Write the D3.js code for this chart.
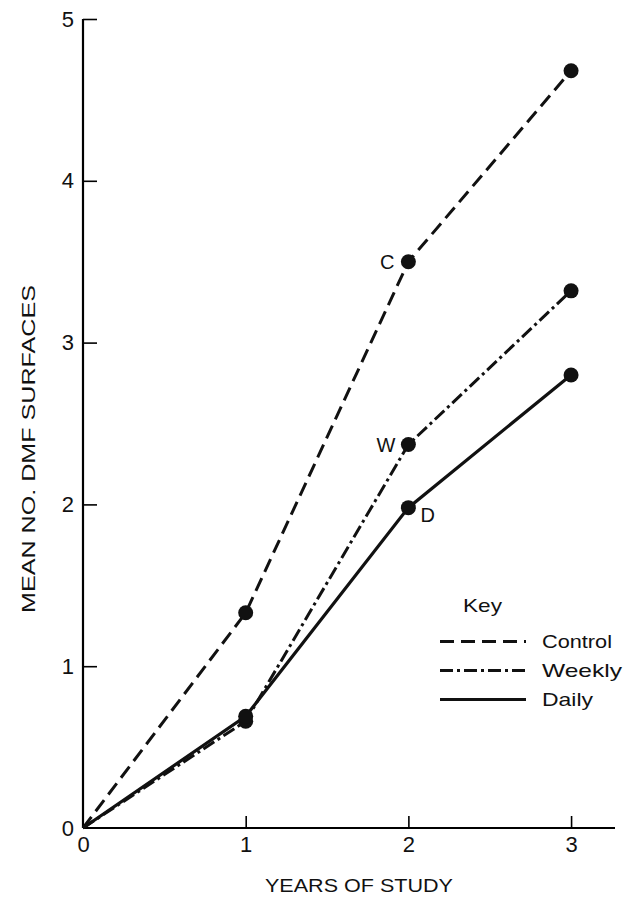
<!DOCTYPE html>
<html>
<head>
<meta charset="utf-8">
<script src="https://cdn.jsdelivr.net/npm/d3@7"></script>
<style>
  body { margin: 0; background: #fff; }
  text { font-family: "Liberation Sans", Arial, sans-serif; fill: #111; }
</style>
</head>
<body>
<svg id="chart"></svg>
<script>
// data
const years = [0, 1, 2, 3]
const control = [0, 1.33, 3.5, 4.68]
const weekly = [0, 0.66, 2.37, 3.32]
const daily = [0, 0.69, 1.98, 2.80]
const xTicks = [0, 1, 2, 3]
const yTicks = [0, 1, 2, 3, 4, 5]
const seriesNames = ["Control", "Weekly", "Daily"]
const pointLabels = ["C", "W", "D"]

const width = 628, height = 898
const margin = {top: 19, right: 13, bottom: 70, left: 83}

const svg = d3.select("#chart")
    .attr("width", width)
    .attr("height", height)

const x = d3.scaleLinear()
    .domain([0, 3.27])
    .range([margin.left, width - margin.right])

const y = d3.scaleLinear()
    .domain([0, 5])
    .range([height - margin.bottom, margin.top])

// styles per series
const styles = {
  Control: {dash: "14,7", width: 3},
  Weekly: {dash: "13,4,3,4", width: 3},
  Daily: {dash: null, width: 3.2}
}

const series = seriesNames.map((name, i) => ({
  name,
  label: pointLabels[i],
  values: years.map((yr, j) => ({x: yr, y: [control, weekly, daily][i][j]}))
}))

// the original type is wider than Liberation Sans, so stretch the titles a bit
const fitText = (sel, len) => sel.attr("textLength", len).attr("lengthAdjust", "spacingAndGlyphs")

// axes
const xAxis = g => g
    .attr("transform", `translate(0,${y(0)})`)
    .call(d3.axisBottom(x).tickValues(xTicks).tickSize(-12).tickPadding(8).tickFormat(d3.format("d")))
    .call(g => g.select(".domain").attr("d", `M${x.range()[0]},0H${x.range()[1]}`).attr("stroke-width", 2.2))
    .call(g => g.selectAll(".tick line").attr("stroke-width", 1.6))
    .call(g => g.selectAll(".tick").filter(d => d === 0).select("line").remove())
    .call(g => g.selectAll("text").attr("font-size", 22).attr("font-family", "Liberation Sans, Arial, sans-serif").attr("fill", "#111"))

const yAxis = g => g
    .attr("transform", `translate(${x(0)},0)`)
    .call(d3.axisLeft(y).tickValues(yTicks).tickSize(-14).tickPadding(9).tickFormat(d3.format("d")))
    .call(g => g.select(".domain").attr("d", `M0,${y(0)}V${y(5)}`).attr("stroke-width", 2.2))
    .call(g => g.selectAll(".tick line").attr("stroke-width", 1.6))
    .call(g => g.selectAll(".tick").filter(d => d === 0).select("line").remove())
    .call(g => g.selectAll("text").attr("font-size", 22).attr("font-family", "Liberation Sans, Arial, sans-serif").attr("fill", "#111"))

svg.append("g").call(xAxis)
svg.append("g").call(yAxis)

// lines
const line = d3.line()
    .x(d => x(d.x))
    .y(d => y(d.y))

svg.append("g")
  .selectAll("path")
  .data(series)
  .join("path")
    .attr("fill", "none")
    .attr("stroke", "#111")
    .attr("stroke-width", d => styles[d.name].width)
    .attr("stroke-dasharray", d => styles[d.name].dash)
    .attr("d", d => line(d.values))

// markers (not at origin)
svg.append("g")
  .selectAll("circle")
  .data(series.flatMap(s => s.values.filter(v => v.x > 0)))
  .join("circle")
    .attr("cx", d => x(d.x))
    .attr("cy", d => y(d.y))
    .attr("r", 7.5)
    .attr("fill", "#111")

// point letters at year 2
const labelOffset = {C: [-14, 0, "end"], W: [-13, 0, "end"], D: [12, 7, "start"]}
svg.append("g")
  .selectAll("text")
  .data(series)
  .join("text")
    .attr("x", d => x(2) + labelOffset[d.label][0])
    .attr("y", d => y(d.values[2].y) + labelOffset[d.label][1])
    .attr("dy", "0.35em")
    .attr("text-anchor", d => labelOffset[d.label][2])
    .attr("font-size", 20)
    .text(d => d.label)

// axis titles
svg.append("text")
    .attr("x", 265)
    .attr("y", 892)
    .attr("font-size", 19)
    .text("YEARS OF STUDY")
    .call(fitText, 188)

svg.append("text")
    .attr("transform", `translate(35,${613}) rotate(-90)`)
    .attr("font-size", 18.5)
    .text("MEAN NO. DMF SURFACES")
    .call(fitText, 328)

// key
const key = svg.append("g")
key.append("text")
    .attr("x", 463)
    .attr("y", 612)
    .attr("font-size", 19)
    .text("Key")
    .call(fitText, 39)

const keyRow = d3.scaleBand().domain(seriesNames).range([627, 714])
const keyWidths = {Control: 70, Weekly: 80, Daily: 51}

const rows = key.selectAll("g.row")
  .data(series)
  .join("g")
    .attr("class", "row")
    .attr("transform", d => `translate(0,${keyRow(d.name) + keyRow.bandwidth() / 2})`)

rows.append("line")
    .attr("x1", 440).attr("x2", 526)
    .attr("stroke", "#111")
    .attr("stroke-width", d => styles[d.name].width)
    .attr("stroke-dasharray", d => styles[d.name].dash)

rows.append("text")
    .attr("x", 542)
    .attr("dy", "0.35em")
    .attr("font-size", 19)
    .text(d => d.name)
    .each(function(d) { d3.select(this).call(fitText, keyWidths[d.name]) })
</script>
</body>
</html>
